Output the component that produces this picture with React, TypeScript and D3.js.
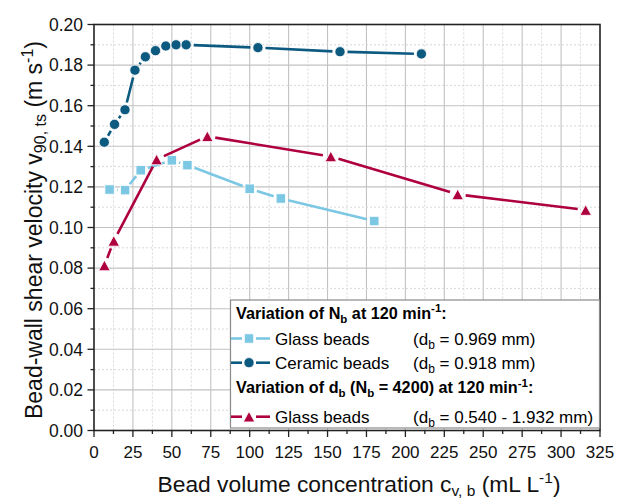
import React from 'react';
import * as d3 from 'd3';

// ---- data ----
const glassX = [10, 20, 30, 50, 60, 100, 120, 180];
const glassY = [0.1187, 0.1184, 0.1282, 0.1331, 0.1307, 0.1191, 0.1143, 0.1032];
const ceramicX = [6.6, 13.2, 19.9, 26.3, 33.0, 39.5, 46.1, 52.7, 59.2, 105.3, 158.0, 210.3];
const ceramicY = [0.142, 0.1508, 0.158, 0.1775, 0.1841, 0.1871, 0.1894, 0.19, 0.19, 0.1886, 0.1866, 0.1855];
const dbX = [6.7, 12.7, 40.2, 72.8, 152.1, 233.6, 315.8];
const dbY = [0.0813, 0.0934, 0.1335, 0.1449, 0.135, 0.1163, 0.1086];
const xTicks = [0, 25, 50, 75, 100, 125, 150, 175, 200, 225, 250, 275, 300, 325];
const yTicks = [0, 0.02, 0.04, 0.06, 0.08, 0.1, 0.12, 0.14, 0.16, 0.18, 0.2];

const C_GLASS = '#7cc8e4';
const C_CER = '#0d5a80';
const C_DB = '#ae003e';
const FONT = '"Liberation Sans", Arial, sans-serif';

const L = 94, R = 600, T = 24.5, B = 430.5;
const x = d3.scaleLinear().domain([0, 325]).range([L, R]);
const y = d3.scaleLinear().domain([0, 0.2]).range([B, T]);

type Kind = 'square' | 'circle' | 'triangle';

function Marker({ cx, cy, kind, color }: { cx: number; cy: number; kind: Kind; color: string }) {
  if (kind === 'circle') return <circle cx={cx} cy={cy} r={5.1} fill={color} stroke="#fff" strokeWidth={0.8} />;
  if (kind === 'square') return <rect x={cx - 4.7} y={cy - 4.7} width={9.4} height={9.4} fill={color} stroke="#fff" strokeWidth={0.8} />;
  const w = 11.5, h = 10.5;
  return (
    <path
      d={`M${cx},${cy - h / 2}L${cx + w / 2},${cy + h / 2}L${cx - w / 2},${cy + h / 2}Z`}
      fill={color}
      stroke="#fff"
      strokeWidth={0.8}
    />
  );
}

function Series({ xs, ys, kind, color, gap }: { xs: number[]; ys: number[]; kind: Kind; color: string; gap: number }) {
  const pts = xs.map((v, i) => [x(v), y(ys[i])] as [number, number]);
  const segs: string[] = [];
  for (let i = 0; i < pts.length - 1; i++) {
    const [x1, y1] = pts[i];
    const [x2, y2] = pts[i + 1];
    const dx = x2 - x1, dy = y2 - y1;
    const len = Math.hypot(dx, dy);
    if (len <= 2 * gap) continue;
    const ux = dx / len, uy = dy / len;
    segs.push(`M${x1 + ux * gap},${y1 + uy * gap}L${x2 - ux * gap},${y2 - uy * gap}`);
  }
  return (
    <g>
      <path d={segs.join('')} stroke={color} strokeWidth={2.6} fill="none" />
      {pts.map((p, i) => (
        <Marker key={i} cx={p[0]} cy={p[1]} kind={kind} color={color} />
      ))}
    </g>
  );
}

function LegendLine({ cy, kind, color }: { cy: number; kind: Kind; color: string }) {
  const x0 = 231, x1 = 270, mx = 249;
  return (
    <g>
      <line x1={x0} x2={mx - 7} y1={cy} y2={cy} stroke={color} strokeWidth={2.6} />
      <line x1={mx + 7} x2={x1} y1={cy} y2={cy} stroke={color} strokeWidth={2.6} />
      <Marker cx={mx} cy={cy} kind={kind} color={color} />
    </g>
  );
}

export default function App() {
  const xMinor = d3.range(0, 325.01, 12.5);
  const yMinor = d3.range(0, 0.2001, 0.01);
  const fmt = d3.format('.2f');
  const legFs = 17;
  const hdFs = 16.2;
  return (
    <svg
      width={623}
      height={500}
      style={{ position: 'absolute', left: 0, top: 0, background: '#fff' }}
      fontFamily={FONT}
    >
      <rect width={623} height={500} fill="#fff" />
      {/* grid */}
      <g>
        {xMinor.map((v, i) => {
          const major = Math.abs(v % 25) < 1e-6;
          if (v === 0 || v === 325) return null;
          return (
            <line
              key={'gx' + i}
              x1={x(v)}
              x2={x(v)}
              y1={T}
              y2={B}
              stroke={major ? '#c2c2c2' : '#d8d8d8'}
              strokeWidth={major ? 1.1 : 1}
              strokeDasharray={major ? undefined : '2,2'}
            />
          );
        })}
        {yMinor.map((v, i) => {
          const major = Math.abs(Math.round(v * 100) % 2) < 1e-6;
          if (i === 0 || i === yMinor.length - 1) return null;
          return (
            <line
              key={'gy' + i}
              x1={L}
              x2={R}
              y1={y(v)}
              y2={y(v)}
              stroke={major ? '#c2c2c2' : '#d8d8d8'}
              strokeWidth={major ? 1.1 : 1}
              strokeDasharray={major ? undefined : '2,2'}
            />
          );
        })}
      </g>

      {/* series */}
      <Series xs={glassX} ys={glassY} kind="square" color={C_GLASS} gap={7.5} />
      <Series xs={ceramicX} ys={ceramicY} kind="circle" color={C_CER} gap={7.5} />
      <Series xs={dbX} ys={dbY} kind="triangle" color={C_DB} gap={8} />

      {/* frame */}
      <rect x={L} y={T} width={R - L} height={B - T} fill="none" stroke="#222" strokeWidth={1.6} />

      {/* legend */}
      <g>
        <rect x={230.5} y={300} width={369} height={128} fill="#fff" stroke="#8a8a8a" strokeWidth={1.2} />
        <text x={236} y={318.5} fontSize={hdFs} fontWeight="bold">
          Variation of N<tspan fontSize={11.5} dy={4}>b</tspan>
          <tspan dy={-4}> at 120 min</tspan>
          <tspan fontSize={11.5} dy={-6.5}>-1</tspan>
          <tspan dy={6.5}>:</tspan>
        </text>
        <LegendLine cy={338.5} kind="square" color={C_GLASS} />
        <text x={275} y={344.5} fontSize={legFs}>Glass beads</text>
        <text x={413} y={344.5} fontSize={legFs}>
          (d<tspan fontSize={12} dy={4}>b</tspan>
          <tspan dy={-4}> = 0.969 mm)</tspan>
        </text>
        <LegendLine cy={362.7} kind="circle" color={C_CER} />
        <text x={275} y={368.7} fontSize={legFs}>Ceramic beads</text>
        <text x={413} y={368.7} fontSize={legFs}>
          (d<tspan fontSize={12} dy={4}>b</tspan>
          <tspan dy={-4}> = 0.918 mm)</tspan>
        </text>
        <text x={236} y={393} fontSize={hdFs} fontWeight="bold">
          Variation of d<tspan fontSize={11.5} dy={4}>b</tspan>
          <tspan dy={-4}> (N</tspan>
          <tspan fontSize={11.5} dy={4}>b</tspan>
          <tspan dy={-4}> = 4200) at 120 min</tspan>
          <tspan fontSize={11.5} dy={-6.5}>-1</tspan>
          <tspan dy={6.5}>:</tspan>
        </text>
        <LegendLine cy={416.7} kind="triangle" color={C_DB} />
        <text x={275} y={422.7} fontSize={legFs}>Glass beads</text>
        <text x={413} y={422.7} fontSize={legFs}>
          (d<tspan fontSize={12} dy={4}>b</tspan>
          <tspan dy={-4}> = 0.540 - 1.932 mm)</tspan>
        </text>
      </g>

      {/* y axis */}
      <g>
        {yMinor.map((v, i) => (
          <line key={'yt' + i} x1={L} x2={L - (i % 2 === 0 ? 6.5 : 3.5)} y1={y(v)} y2={y(v)} stroke="#222" strokeWidth={1.3} />
        ))}
        {yTicks.map((v, i) => (
          <text key={'yl' + i} x={83} y={y(v)} dy="0.36em" textAnchor="end" fontSize={17.5} fill="#111">
            {fmt(v)}
          </text>
        ))}
      </g>
      {/* x axis */}
      <g>
        {xMinor.map((v, i) => (
          <line key={'xt' + i} x1={x(v)} x2={x(v)} y1={B} y2={B + (i % 2 === 0 ? 6.5 : 3.5)} stroke="#222" strokeWidth={1.3} />
        ))}
        {xTicks.map((v, i) => (
          <text key={'xl' + i} x={x(v)} y={458} textAnchor="middle" fontSize={17} fill="#111">
            {v}
          </text>
        ))}
      </g>

      {/* axis titles */}
      <text x={359} y={492} textAnchor="middle" fontSize={22.8} fill="#111">
        Bead volume concentration c<tspan fontSize={15.5} dy={3.5}>v, b</tspan>
        <tspan dy={-3.5}> (mL L</tspan>
        <tspan fontSize={15.5} dy={-9}>-1</tspan>
        <tspan dy={9}>)</tspan>
      </text>
      <text transform={`translate(42,230) rotate(-90)`} textAnchor="middle" fontSize={23} fill="#111">
        Bead-wall shear velocity v<tspan fontSize={16} dy={4}>90, ts</tspan>
        <tspan dy={-4}> (m s</tspan>
        <tspan fontSize={16} dy={-9}>-1</tspan>
        <tspan dy={9}>)</tspan>
      </text>
    </svg>
  );
}
